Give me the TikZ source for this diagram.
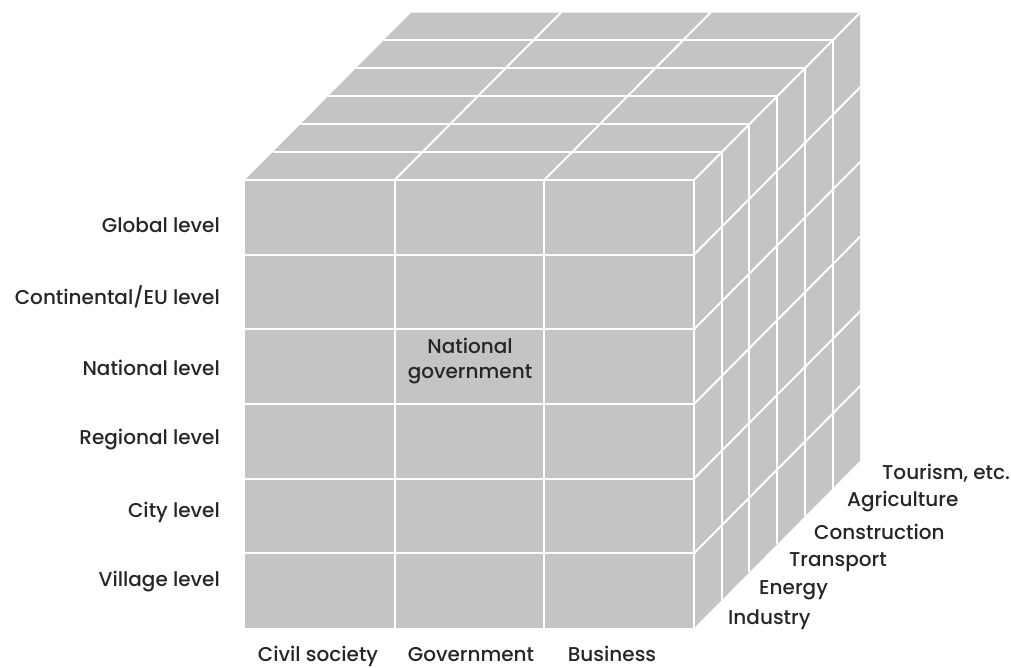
\documentclass[tikz,border=0pt]{standalone}
\usepackage{fontspec}
\usetikzlibrary{calc}
\setmainfont{Poppins}[UprightFont={* Medium}]
\definecolor{cubegray}{HTML}{C4C4C4}
\definecolor{txt}{HTML}{262626}
\begin{document}
\begin{tikzpicture}[x=1pt,y=-1pt,
  grid/.style={white,line width=2pt},
  lab/.style={inner sep=0pt,text=txt,font=\fontsize{20}{22}\selectfont},
  leftlab/.style={lab,anchor=east},
  sidelab/.style={lab,anchor=west},
  botlab/.style={lab,anchor=base}]
\useasboundingbox (0,0) rectangle (1011,668);
\def\xa{245}\def\xb{694}\def\ya{180}\def\yb{628}
\def\cw{149.667}\def\rh{74.667}\def\dx{27.7}\def\dy{-27.9}
% faces
\fill[cubegray] (\xa,\ya) rectangle (\xb,\yb);
\fill[cubegray] (\xa,\ya) -- ++(6*\dx,6*\dy) -- ($(\xb,\ya)+(6*\dx,6*\dy)$) -- (\xb,\ya) -- cycle;
\fill[cubegray] (\xb,\ya) -- ++(6*\dx,6*\dy) -- ($(\xb,\yb)+(6*\dx,6*\dy)$) -- (\xb,\yb) -- cycle;
% front grid
\foreach \i in {1,2}{\draw[grid] (\xa+\i*\cw,\ya) -- (\xa+\i*\cw,\yb);}
\foreach \j in {0,...,5}{\draw[grid] (\xa,\ya+\j*\rh) -- (\xb,\ya+\j*\rh);}
\draw[grid] (\xb,\ya) -- (\xb,\yb);
% top grid
\foreach \k in {1,...,5}{\draw[grid] (\xa+\k*\dx,\ya+\k*\dy) -- (\xb+\k*\dx,\ya+\k*\dy);}
\foreach \i in {1,2,3}{\draw[grid] (\xa+\i*\cw,\ya) -- ++(6*\dx,6*\dy);}
% right grid
\foreach \k in {1,...,5}{\draw[grid] (\xb+\k*\dx,\ya+\k*\dy) -- (\xb+\k*\dx,\yb+\k*\dy);}
\foreach \j in {1,...,5}{\draw[grid] (\xb,\ya+\j*\rh) -- ++(6*\dx,6*\dy);}
% labels
\node[leftlab] (global) at (220,225) {Global level};
\node[leftlab] (cont) at (220,297) {Continental/EU level};
\node[leftlab] (nat) at (220,368) {National level};
\node[leftlab] (reg) at (220,440) {Regional level};
\node[leftlab] (city) at (220,512) {City level};
\node[leftlab] (vill) at (220,582) {Village level};
\node[botlab] (civ) at (318,661) {Civil society};
\node[botlab] (gov) at (471,661) {Government};
\node[botlab] (bus) at (612,661) {Business};
\node[lab,align=center,font=\fontsize{20}{25}\selectfont] (natgov) at (470,361) {National\\government};
\node[sidelab] (ind) at (728,620) {Industry};
\node[sidelab] (ene) at (759,590) {Energy};
\node[sidelab] (tra) at (789,562) {Transport};
\node[sidelab] (con) at (814,532) {Construction};
\node[sidelab] (agr) at (847,502) {Agriculture};
\node[sidelab] (tou) at (882,473) {Tourism, etc.};
\end{tikzpicture}
\end{document}
